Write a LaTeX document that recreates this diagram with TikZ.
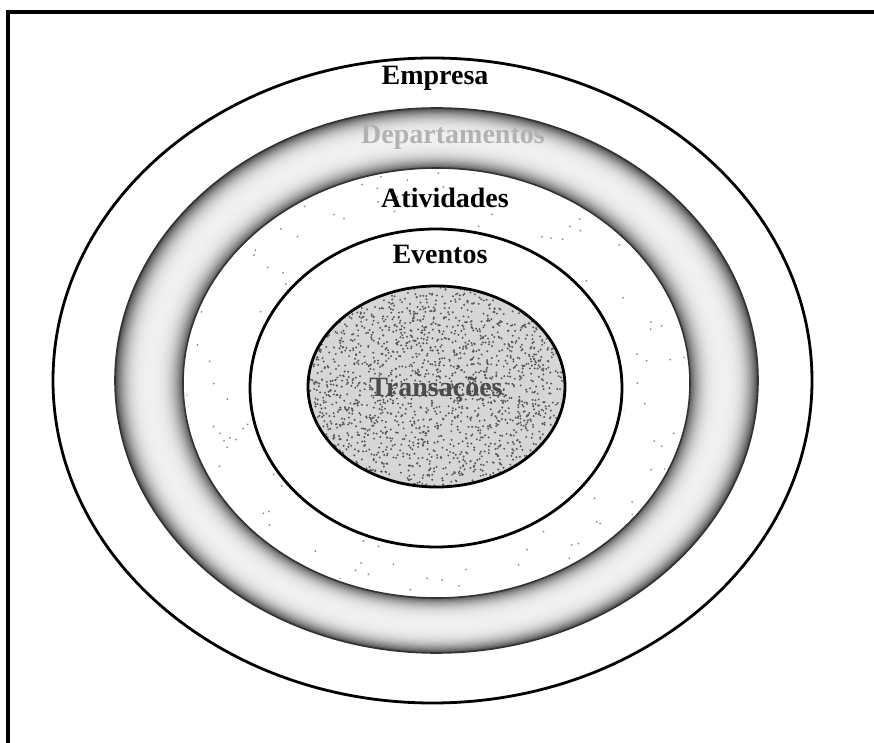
\documentclass[tikz,border=0pt]{standalone}
\usepackage{fontspec}
\setmainfont{Liberation Serif}

\begin{document}
\begin{tikzpicture}[x=0.5pt,y=-0.5pt,line width=1.4pt,
  rotulo/.style={font=\fontsize{14}{16}\selectfont\bfseries}]
  \useasboundingbox (0,0) rectangle (874,743);
  % moldura (topo e lado esquerdo)
  \draw[line width=1.6pt] (874,12) -- (8,12) -- (8,743);
  % Empresa
  \draw (432.5,380.5) ellipse [x radius=379.5,y radius=322.5];
  % anel dos departamentos -- escuro nas bordas, claro no meio
  \foreach \t in {0,0.02,...,1.0}{
     \pgfmathsetmacro{\rx}{321.5-68*\t}
     \pgfmathsetmacro{\ry}{272.5-57.5*\t}
     \pgfmathsetmacro{\cy}{380.5+2.5*\t}
     \pgfmathsetmacro{\sh}{6+64*(2*abs(\t-0.5))^3}
     \fill[black!\sh] (436.5,\cy) ellipse [x radius=\rx,y radius=\ry];}
  \fill[white] (436.5,383) ellipse [x radius=253.5,y radius=215];
  \draw[black!80,line width=0.8pt] (436.5,380.5) ellipse [x radius=321.5,y radius=272.5];
  \draw[black!80,line width=0.8pt] (436.5,383) ellipse [x radius=253.5,y radius=215];
  % pontinhos soltos na faixa das atividades
  \begin{scope}[even odd rule]
    \clip (436.5,383) ellipse [x radius=250,y radius=212]
          (436,388) ellipse [x radius=190,y radius=163];
    \pgfmathsetseed{5}
    \foreach \i in {1,...,260}
       \fill[black!45] ({183+507*rnd},{168+430*rnd}) circle[radius=1];
  \end{scope}
  % Eventos
  \draw (436,388) ellipse [x radius=186,y radius=159];
  % Transacoes -- fundo pontilhado
  \begin{scope}
    \clip (436.5,386.5) ellipse [x radius=128.5,y radius=100.5];
    \fill[black!16] (436.5,386.5) ellipse [x radius=128.5,y radius=100.5];
    \pgfmathsetseed{11}
    \foreach \i in {1,...,2200}
       \fill[black!65] ({308+257*rnd},{286+201*rnd}) circle[radius=1.1];
  \end{scope}
  \draw (436.5,386.5) ellipse [x radius=128.5,y radius=100.5];
  % rotulos
  \node[rotulo] (empresa) at (435,78) {Empresa};
  \node[rotulo,text=black!30] (deptos) at (453,137) {Departamentos};
  \node[rotulo] (ativ) at (445,198) {Atividades};
  \node[rotulo] (eventos) at (440,254) {Eventos};
  \node[rotulo,text=black!70] (trans) at (436,390) {Transações};
\end{tikzpicture}
\end{document}
